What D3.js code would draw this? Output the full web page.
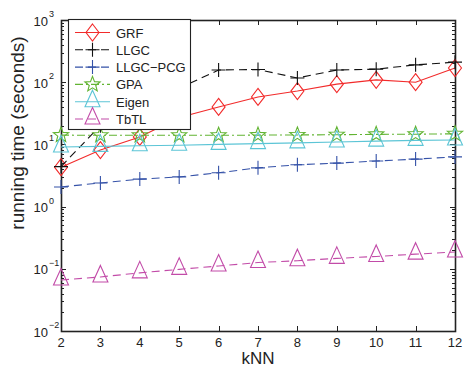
<!DOCTYPE html>
<html>
<head>
<meta charset="utf-8">
<script src="https://cdn.jsdelivr.net/npm/d3@7"></script>
<style>
  html, body { margin: 0; padding: 0; background: #fff; }
  svg { display: block; font-family: "Liberation Sans", Arial, sans-serif; }
</style>
</head>
<body>
<div id="chart"></div>
<script>
// ── Data ──
const kNN = [2, 3, 4, 5, 6, 7, 8, 9, 10, 11, 12];
const grf     = [4.3, 8.1, 13.2, 27, 40, 58, 72, 93, 109, 100, 169];
const llgc    = [4.4, 20, 45, 80, 157, 160, 117, 157, 162, 190, 210];
const llgcPcg = [2.07, 2.4, 2.77, 3.0, 3.5, 4.2, 4.7, 5.0, 5.4, 5.8, 6.3];
const gpa     = [14.1, 14.0, 14.0, 14.0, 14.0, 14.1, 14.2, 14.3, 14.5, 14.6, 14.8];
const eigen   = [9.1, 9.3, 9.5, 9.7, 10.0, 10.3, 10.6, 10.9, 11.3, 11.6, 11.8];
const tbtl    = [0.066, 0.074, 0.086, 0.098, 0.111, 0.126, 0.135, 0.147, 0.158, 0.172, 0.186];
const xTicks = kNN;
const yTickExp = [-2, -1, 0, 1, 2, 3];

const series = [
  { name: 'GRF',      values: grf,     color: '#f22b2b', dash: null,      marker: 'diamond' },
  { name: 'LLGC',     values: llgc,    color: '#111111', dash: '8,5',     marker: 'plus' },
  { name: 'LLGC\u2212PCG', values: llgcPcg, color: '#3552a8', dash: '8,5', marker: 'plus' },
  { name: 'GPA',      values: gpa,     color: '#62b432', dash: '8,3,2,3', marker: 'star' },
  { name: 'Eigen',    values: eigen,   color: '#5cc5d6', dash: null,      marker: 'triangle' },
  { name: 'TbTL',     values: tbtl,    color: '#c24ba8', dash: '8,5',     marker: 'triangle' }
];

const W = 466, H = 367;
const M = { left: 61, right: 455, top: 20, bottom: 331 };

const x = d3.scaleLinear().domain([2, 12]).range([M.left, M.right]);
const y = d3.scaleLog().domain([1e-2, 1e3]).range([M.bottom, M.top]);

const svg = d3.select('#chart').append('svg').attr('width', W).attr('height', H);

// marker shapes (MATLAB-like outlines)
function markerPath(type) {
  switch (type) {
    case 'diamond': return 'M0,-8.5L6.5,0L0,8.5L-6.5,0Z';
    case 'plus': return 'M-7,0H7M0,-7V7';
    case 'triangle': return 'M0,-11.5L7.5,5L-7.5,5Z';
    case 'star': {
      const pts = [];
      for (let i = 0; i < 10; i++) {
        const r = i % 2 === 0 ? 8 : 3.4;
        const a = -Math.PI / 2 + i * Math.PI / 5;
        pts.push([r * Math.cos(a), r * Math.sin(a)]);
      }
      return 'M' + pts.map(p => p[0].toFixed(2) + ',' + p[1].toFixed(2)).join('L') + 'Z';
    }
  }
}

// ── Axes box + ticks (inward, all four sides) ──
const axisG = svg.append('g').attr('stroke', '#222').attr('stroke-width', 1);

xTicks.forEach(t => {
  const px = Math.round(x(t)) + 0.5;
  axisG.append('line').attr('x1', px).attr('x2', px).attr('y1', M.bottom).attr('y2', M.bottom - 5);
  axisG.append('line').attr('x1', px).attr('x2', px).attr('y1', M.top).attr('y2', M.top + 5);
});

for (let e = -2; e < 3; e++) {
  for (let m = 1; m <= 9; m++) {
    const v = m * Math.pow(10, e);
    const py = Math.round(y(v)) + 0.5;
    const len = m === 1 ? 5 : 3;
    axisG.append('line').attr('x1', M.left).attr('x2', M.left + len).attr('y1', py).attr('y2', py);
    axisG.append('line').attr('x1', M.right).attr('x2', M.right - len).attr('y1', py).attr('y2', py);
  }
}

svg.append('rect')
  .attr('x', M.left + 0.5).attr('y', M.top + 0.5)
  .attr('width', M.right - M.left).attr('height', M.bottom - M.top)
  .attr('fill', 'none').attr('stroke', '#222').attr('stroke-width', 1.6);

// tick labels
svg.append('g').selectAll('text').data(xTicks).join('text')
  .attr('x', d => x(d)).attr('y', 347)
  .attr('text-anchor', 'middle').attr('font-size', 13).attr('fill', '#222')
  .text(d => d);

const yl = svg.append('g').selectAll('g').data(yTickExp).join('g')
  .attr('transform', d => `translate(0,${y(Math.pow(10, d))})`);
yl.append('text').attr('x', 48).attr('y', 5.5)
  .attr('text-anchor', 'end').attr('font-size', 13).attr('fill', '#222').text('10');
yl.append('text').attr('x', 49).attr('y', -3)
  .attr('font-size', 9).attr('fill', '#222')
  .text(d => d < 0 ? '\u2212' + Math.abs(d) : d);

// axis titles
svg.append('text').attr('x', 258).attr('y', 364)
  .attr('text-anchor', 'middle').attr('font-size', 17).attr('fill', '#222').text('kNN');
svg.append('text')
  .attr('transform', 'translate(24,133) rotate(-90)')
  .attr('text-anchor', 'middle').attr('font-size', 19).attr('fill', '#222')
  .text('running time (seconds)');

// ── Series ──
const line = d3.line().x((d, i) => x(kNN[i])).y(d => y(d));

series.forEach(s => {
  const g = svg.append('g');
  g.append('path').datum(s.values)
    .attr('d', line).attr('fill', 'none')
    .attr('stroke', s.color).attr('stroke-width', 1.1)
    .attr('stroke-dasharray', s.dash);
  g.selectAll('path.mk').data(s.values).join('path').attr('class', 'mk')
    .attr('transform', (d, i) => `translate(${x(kNN[i])},${y(d)})`)
    .attr('d', markerPath(s.marker))
    .attr('fill', 'none').attr('stroke', s.color).attr('stroke-width', 1.1);
});

// ── Legend ──
const lg = svg.append('g');
lg.append('rect').attr('x', 68.5).attr('y', 19.5).attr('width', 122).attr('height', 110)
  .attr('fill', '#fff').attr('stroke', '#222').attr('stroke-width', 1.1);
series.forEach((s, i) => {
  const ry = 32.5 + i * 17.3;
  lg.append('line').attr('x1', 75).attr('x2', 110).attr('y1', ry).attr('y2', ry)
    .attr('stroke', s.color).attr('stroke-width', 1.1).attr('stroke-dasharray', s.dash);
  lg.append('path').attr('transform', `translate(92.5,${ry})`)
    .attr('d', markerPath(s.marker))
    .attr('fill', 'none').attr('stroke', s.color).attr('stroke-width', 1.1);
  lg.append('text').attr('x', 116).attr('y', ry + 5)
    .attr('font-size', 13).attr('fill', '#222').text(s.name);
});
</script>
</body>
</html>
